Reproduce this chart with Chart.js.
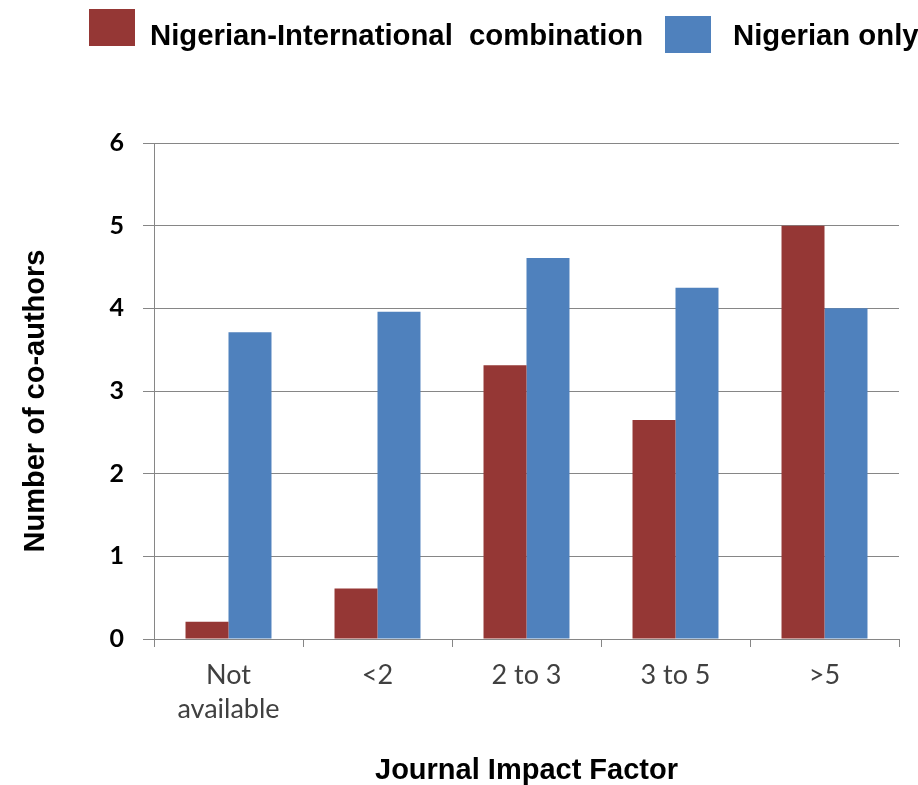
<!DOCTYPE html>
<html>
<head>
<meta charset="utf-8">
<script src="https://cdn.jsdelivr.net/npm/chart.js@4"></script>
<style>
  html, body { margin: 0; padding: 0; background: #fff; }
  #wrap { width: 918px; height: 785px; }
</style>
</head>
<body>
<div id="wrap"><canvas id="CoauthorChart" width="918" height="785"></canvas></div>
<script>
const categories = [['Not', 'available'], '<2', '2 to 3', '3 to 5', '>5'];
const seriesNames = ['Nigerian-International  combination', 'Nigerian only'];
const combinedValues = [0.21, 0.61, 3.31, 2.65, 5.0];
const nigerianOnlyValues = [3.71, 3.96, 4.61, 4.25, 4.0];
const yTicks = [0, 1, 2, 3, 4, 5, 6];
const colors = ['#953735', '#4F81BD'];

// legend + rotated y title drawn by hand so they sit where the original has them
const legendBoxX = [89, 665];
const legendBoxY = [9, 16];
const legendTextX = [150, 733];

const annotations = {
    id: 'annotations',
    afterDraw(chart) {
        const ctx = chart.ctx;
        ctx.save();
        ctx.font = 'bold 29.3px "Liberation Sans", Arial, sans-serif';
        ctx.textBaseline = 'alphabetic';
        ctx.textAlign = 'left';
        chart.data.datasets.forEach((ds, i) => {
            ctx.fillStyle = ds.backgroundColor;
            ctx.fillRect(legendBoxX[i], legendBoxY[i], 46, 37);
            ctx.fillStyle = '#000';
            ctx.fillText(ds.label, legendTextX[i], 45);
        });

        const yTitle = 'Number of co-authors';
        ctx.font = 'bold 29px "Liberation Sans", Arial, sans-serif';
        ctx.translate(44, 401);
        ctx.rotate(-Math.PI / 2);
        ctx.textAlign = 'center';
        ctx.fillText(yTitle, 0, 0);
        ctx.restore();
    }
};

const ctx = document.getElementById('CoauthorChart');
new Chart(ctx, {
    type: 'bar',
    data: {
        labels: categories,
        datasets: [
            {
                label: seriesNames[0],
                data: combinedValues,
                backgroundColor: colors[0],
                borderWidth: 0,
                barPercentage: 1,
                categoryPercentage: 0.577
            },
            {
                label: seriesNames[1],
                data: nigerianOnlyValues,
                backgroundColor: colors[1],
                borderWidth: 0,
                barPercentage: 1,
                categoryPercentage: 0.577
            }
        ]
    },
    options: {
        responsive: false,
        animation: false,
        layout: {
            padding: { left: 0, right: 19, top: 143, bottom: 0 }
        },
        plugins: {
            legend: { display: false },
            tooltip: { enabled: false }
        },
        scales: {
            x: {
                grid: {
                    display: true,
                    drawOnChartArea: false,
                    drawTicks: true,
                    tickLength: 8,
                    color: '#868686'
                },
                border: { display: true, color: '#868686' },
                ticks: {
                    color: '#404040',
                    padding: 11,
                    font: { family: 'Lato', size: 27, lineHeight: 1.26 }
                },
                title: {
                    display: true,
                    text: 'Journal Impact Factor',
                    color: '#000',
                    padding: 0,
                    font: { family: '"Liberation Sans", Arial', size: 29, weight: 'bold', lineHeight: 1 }
                },
                afterFit: (scale) => { scale.height = 785 - 639; }
            },
            y: {
                min: 0,
                max: 6,
                afterBuildTicks: (scale) => { scale.ticks = yTicks.map(v => ({ value: v })); },
                grid: {
                    color: '#868686',
                    tickLength: 11
                },
                border: { display: true, color: '#868686' },
                ticks: {
                    color: '#000',
                    padding: 19,
                    font: { family: 'Lato', size: 25, weight: 'bold' }
                },
                afterFit: (scale) => { scale.width = 154; }
            }
        }
    },
    plugins: [annotations]
});
</script>
</body>
</html>
